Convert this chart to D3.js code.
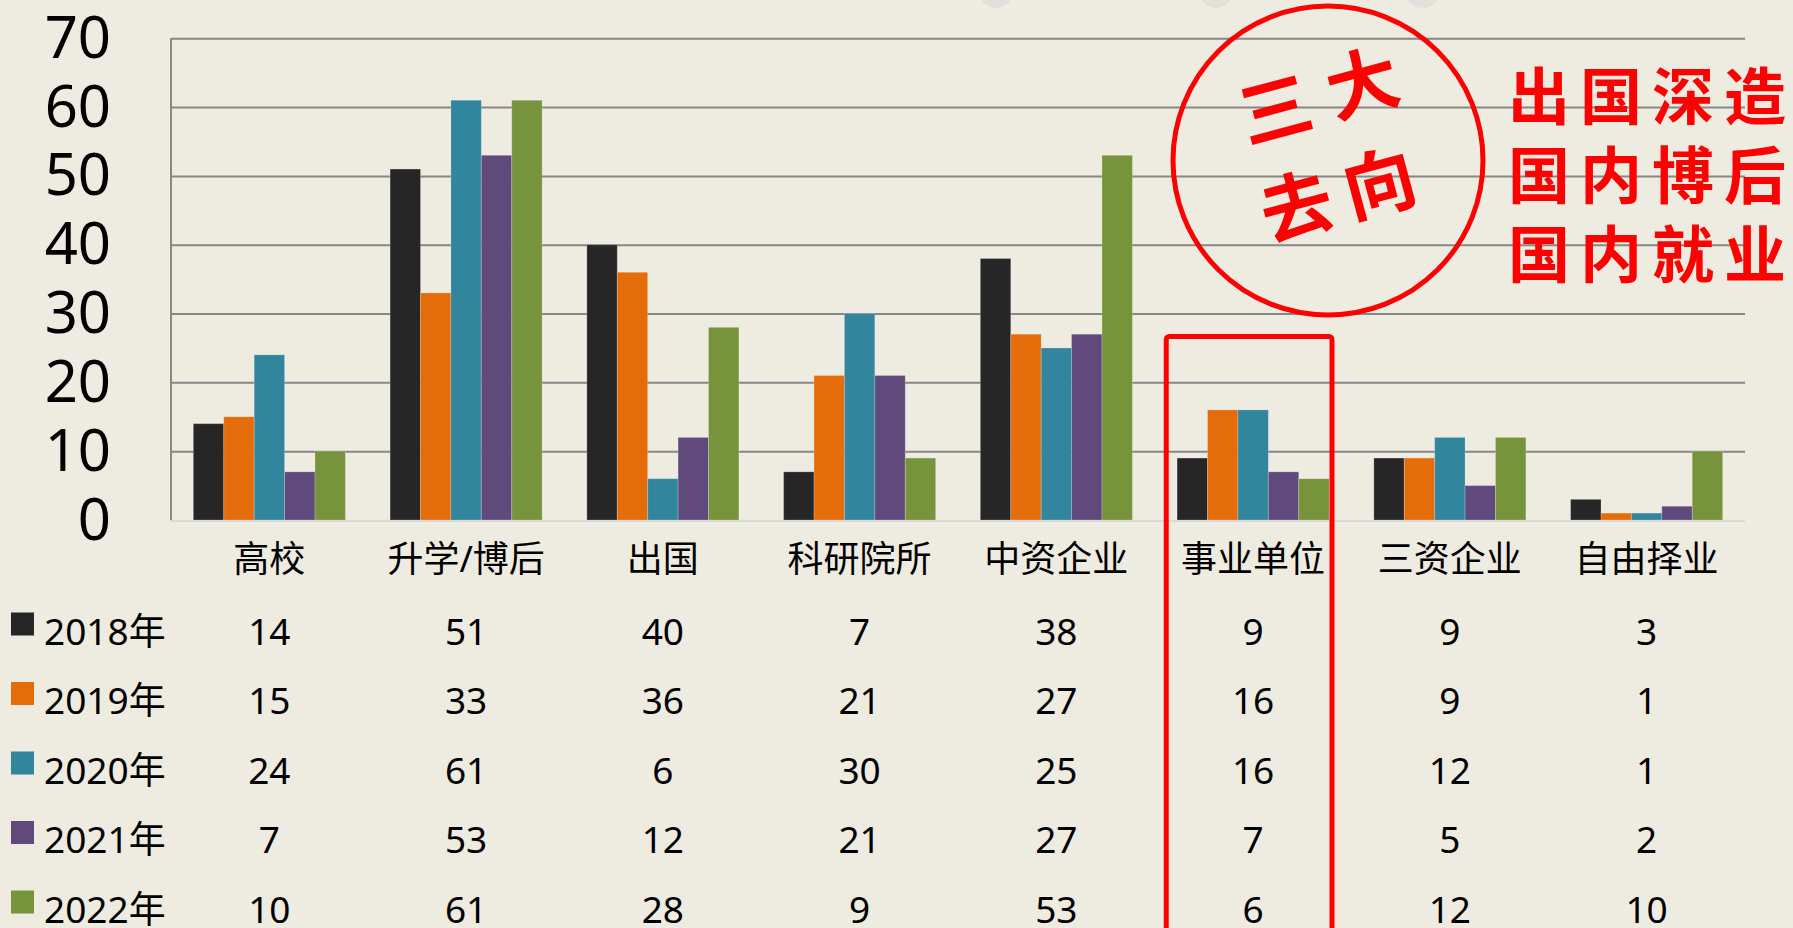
<!DOCTYPE html>
<html>
<head>
<meta charset="utf-8">
<script src="https://cdn.jsdelivr.net/npm/d3@7"></script>
<style>
  html, body { margin:0; padding:0; background:#EEEBE0; }
  svg { display:block; }
  text { font-family: "Noto Sans", "Noto Sans CJK SC", sans-serif; fill:#000; }
</style>
</head>
<body>
<svg id="chart" width="1793" height="928"></svg>
<script>
const categories = ["高校","升学/博后","出国","科研院所","中资企业","事业单位","三资企业","自由择业"];
const years = ["2018年","2019年","2020年","2021年","2022年"];
const v2018 = [14,51,40,7,38,9,9,3];
const v2019 = [15,33,36,21,27,16,9,1];
const v2020 = [24,61,6,30,25,16,12,1];
const v2021 = [7,53,12,21,27,7,5,2];
const v2022 = [10,61,28,9,53,6,12,10];
const seriesValues = [v2018, v2019, v2020, v2021, v2022];
const yTicks = [0,10,20,30,40,50,60,70];
const colors = ["#262626","#E46C0A","#31859C","#604A7B","#77933C"];

const highlightCat = "事业单位";
const circleLines = [["三","大"],["去","向"]];
const noteLines = ["出国深造","国内博后","国内就业"];

function draw(){
  const svg = d3.select("#chart");
  const W = 1793, H = 928;
  const m = {l:171, r:W-1745, t:38.3, b:H-520};

  // faint marks along the top edge
  svg.selectAll("circle.blob").data([996,1216,1423]).enter().append("circle")
    .attr("cx", d=>d).attr("cy", -9).attr("r", 17).attr("fill","#E6DEDB");

  const x = d3.scaleBand().domain(categories).range([m.l, W-m.r]).padding(0);
  const gap = x.bandwidth()*0.1136;
  const xs = d3.scaleBand().domain(d3.range(years.length)).range([gap, x.bandwidth()-gap]).padding(0);
  const y = d3.scaleLinear().domain([0,70]).range([H-m.b, m.t]);

  // gridlines + y labels
  const ax = svg.append("g")
    .attr("transform",`translate(${m.l},0)`)
    .call(d3.axisLeft(y).tickValues(yTicks).tickSize(-(W-m.l-m.r)).tickPadding(60));
  ax.select(".domain").remove();
  ax.selectAll(".tick line").attr("stroke","#878787").attr("stroke-width",2)
    .filter(d=>d===0).remove();
  ax.selectAll(".tick text")
    .attr("font-size",58).attr("fill","#000")
    .attr("dy", 19).attr("text-anchor","end").attr("x",-60);

  // vertical axis line
  svg.append("line")
    .attr("x1",m.l).attr("x2",m.l).attr("y1",y(70)).attr("y2",y(0))
    .attr("stroke","#878787").attr("stroke-width",2);

  // bars
  const groups = svg.append("g").selectAll("g").data(categories).enter().append("g")
    .attr("transform", d=>`translate(${x(d)},0)`);
  groups.selectAll("rect")
    .data((c,ci)=>seriesValues.map((s,si)=>({si, v:s[ci]})))
    .enter().append("rect")
    .attr("x", d=>xs(d.si))
    .attr("y", d=>y(d.v))
    .attr("width", xs.bandwidth())
    .attr("height", d=>y(0)-y(d.v))
    .attr("fill", d=>colors[d.si])
    .attr("stroke","rgba(255,255,255,0.22)").attr("stroke-width",1);

  // baseline
  svg.append("line")
    .attr("x1",m.l-1).attr("x2",W-m.r).attr("y1",y(0)+1).attr("y2",y(0)+1)
    .attr("stroke","#D9D9D9").attr("stroke-width",2);

  // category labels
  svg.append("g").selectAll("text").data(categories).enter().append("text")
    .attr("x", d=>x(d)+x.bandwidth()/2).attr("y", 558)
    .attr("text-anchor","middle").attr("dominant-baseline","central")
    .attr("font-size",36).text(d=>d);

  // data table with legend keys
  const rowY = d3.scaleLinear().domain([0,4]).range([630,908]);
  const rows = svg.append("g").selectAll("g").data(years).enter().append("g");
  rows.append("rect")
    .attr("x",11).attr("y",(d,i)=>rowY(i)-17.5).attr("width",23).attr("height",23)
    .attr("fill",(d,i)=>colors[i]);
  rows.append("text")
    .attr("x",44).attr("y",(d,i)=>rowY(i)).attr("dominant-baseline","central")
    .attr("font-size",37).text(d=>d);
  rows.each(function(d,i){
    d3.select(this).selectAll("text.val").data(seriesValues[i]).enter().append("text")
      .attr("class","val")
      .attr("x",(v,ci)=>x(categories[ci])+x.bandwidth()/2)
      .attr("y",rowY(i)).attr("dominant-baseline","central")
      .attr("text-anchor","middle").attr("font-size",37).text(v=>v);
  });

  // highlight box
  svg.append("rect")
    .attr("x", x(highlightCat)+11.5).attr("y",336.5)
    .attr("width", x.bandwidth()-31).attr("height",700)
    .attr("rx",3).attr("fill","none").attr("stroke","#FF0000").attr("stroke-width",5);

  // red stamp
  svg.append("ellipse")
    .attr("cx",1328).attr("cy",160.5).attr("rx",155).attr("ry",154.5)
    .attr("fill","none").attr("stroke","#FF0000").attr("stroke-width",5);
  const stampPos = [[[1275,108],[1362,82]],[[1296,205],[1379,182]]];
  circleLines.forEach((line,li)=>{
    line.forEach((ch,ci)=>{
      const p = stampPos[li][ci];
      svg.append("text")
        .attr("transform",`translate(${p[0]},${p[1]}) rotate(-15)`)
        .attr("text-anchor","middle").attr("dominant-baseline","central")
        .attr("font-family","'Noto Sans CJK SC'").attr("font-weight",700)
        .attr("font-size",72).style("fill","#FF0000").text(ch);
    });
  });

  // red side note
  svg.append("g").selectAll("text").data(noteLines).enter().append("text")
    .attr("x",1508).attr("y",(d,i)=>96+i*79)
    .attr("dominant-baseline","central")
    .attr("font-family","'Noto Sans CJK SC'").attr("font-weight",700)
    .attr("font-size",62).attr("letter-spacing",10)
    .style("fill","#FF0000").text(d=>d);
}
window.addEventListener("DOMContentLoaded", draw);
</script>
</body>
</html>
